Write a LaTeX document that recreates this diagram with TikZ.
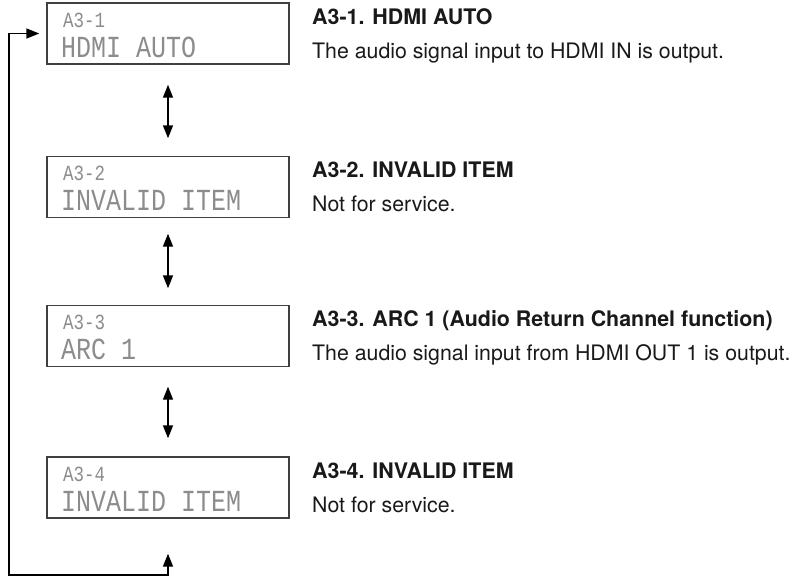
\documentclass[tikz,border=0pt]{standalone}
\usepackage{fontspec}
\setmainfont{TeX Gyre Heros}
\newfontfamily\lcdfont{Liberation Mono}
\usetikzlibrary{arrows.meta,calc}
\begin{document}
\begin{tikzpicture}[x=1pt,y=-1pt,
  lcdbox/.style={draw=black!75,line width=1.4pt,minimum width=242pt,minimum height=61pt,inner sep=0pt},
  lcdsmall/.style={anchor=base west,inner sep=0pt,text=black!45,font=\lcdfont\fontsize{18}{18}\selectfont},
  lcdbig/.style={anchor=base west,inner sep=0pt,text=black!45,font=\lcdfont\fontsize{24.5}{24.5}\selectfont},
  ttl/.style={anchor=base west,inner sep=0pt,font=\bfseries\fontsize{21.4}{24}\selectfont,text=black!90},
  dsc/.style={anchor=base west,inner sep=0pt,font=\fontsize{21.3}{24}\selectfont,text=black!90},
  arr/.style={line width=1.4pt,{Triangle[length=13pt,width=10pt]}-{Triangle[length=13pt,width=10pt]}}
]
\useasboundingbox (0,0) rectangle (793,579);
% boxes
\node[lcdbox] (b1) at (168,33.5) {};
\node[lcdbox] (b2) at (168,187) {};
\node[lcdbox] (b3) at (168,336) {};
\node[lcdbox] (b4) at (168,487.5) {};
% LCD texts
\node[lcdsmall] (s1) at (63,27) {\scalebox{0.97}[1.2]{A3-1}};
\node[lcdbig]   (l1) at (61,57) {\scalebox{1.02}[1.25]{HDMI AUTO}};
\node[lcdsmall] (s2) at (63,180.5) {\scalebox{0.97}[1.2]{A3-2}};
\node[lcdbig]   (l2) at (61,210.5) {\scalebox{1.02}[1.25]{INVALID ITEM}};
\node[lcdsmall] (s3) at (63,329.5) {\scalebox{0.97}[1.2]{A3-3}};
\node[lcdbig]   (l3) at (61,359.5) {\scalebox{1.02}[1.25]{ARC 1}};
\node[lcdsmall] (s4) at (63,481) {\scalebox{0.97}[1.2]{A3-4}};
\node[lcdbig]   (l4) at (61,511) {\scalebox{1.02}[1.25]{INVALID ITEM}};
% titles and descriptions
\node[ttl] (t1) at (312,24) {A3-1. HDMI AUTO};
\node[dsc] (d1) at (312,58) {The audio signal input to HDMI IN is output.};
\node[ttl] (t2) at (312,177.5) {A3-2. INVALID ITEM};
\node[dsc] (d2) at (312,211.5) {Not for service.};
\node[ttl] (t3) at (312,326.5) {A3-3. ARC 1 (Audio Return Channel function)};
\node[dsc] (d3) at (312,360.5) {The audio signal input from HDMI OUT 1 is output.};
\node[ttl] (t4) at (312,478) {A3-4. INVALID ITEM};
\node[dsc] (d4) at (312,512) {Not for service.};
% arrows
\draw[arr,shorten <=20pt,shorten >=17.5pt] (b1.south) -- (b2.north);
\draw[arr,shorten <=15.5pt,shorten >=16.5pt] (b2.south) -- (b3.north);
\draw[arr,shorten <=19.5pt,shorten >=18pt] (b3.south) -- (b4.north);
\coordinate (lb) at (9,575);
\draw[arr,shorten <=35pt,shorten >=7pt] (b4.south) |- (lb) |- (b1.west);
\end{tikzpicture}
\end{document}
